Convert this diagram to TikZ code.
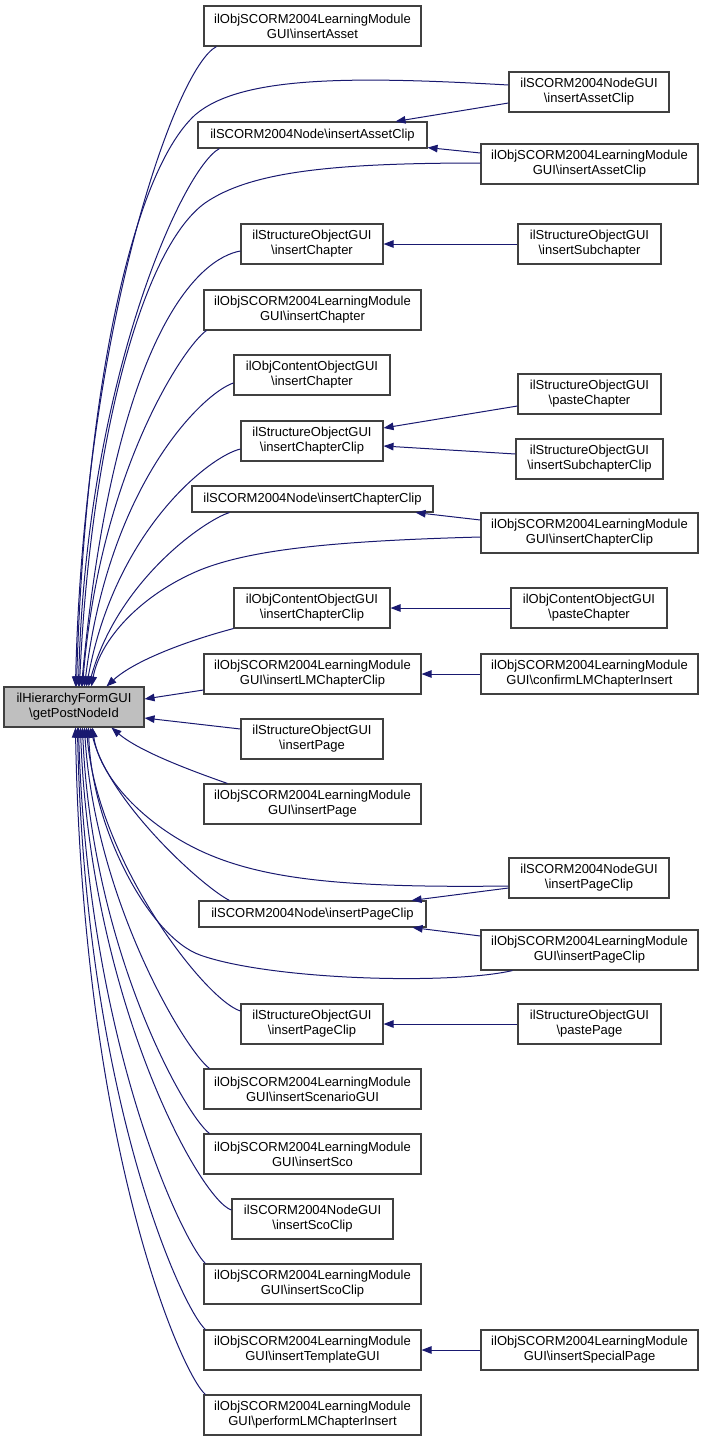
\documentclass[tikz,border=0pt]{standalone}
\usepackage{fontspec}
\setmainfont{Liberation Sans}
\usetikzlibrary{arrows.meta,calc}
\definecolor{edgec}{HTML}{191970}
\definecolor{rootfill}{HTML}{BFBFBF}
\definecolor{boxline}{HTML}{404040}
\newcommand{\bsl}{\textbackslash}
\begin{document}
\begin{tikzpicture}[x=1pt,y=-1pt,
  box/.style={draw=boxline, line width=1.1pt, fill=white, inner sep=0pt, align=center,
              font=\fontsize{13}{15}\selectfont, minimum height=40pt},
  lm/.style={box, minimum width=217pt},
  so/.style={box, minimum width=142pt},
  co/.style={box, minimum width=156pt},
  gui/.style={box, minimum width=160pt},
  one/.style={box, minimum height=26pt},
  edge/.style={draw=edgec, line width=1pt, -{Triangle[length=10pt,width=7.5pt]}}]
\useasboundingbox (0,0) rectangle (705,1441);

% root
\node[box, fill=rootfill, minimum width=140pt] (root) at (74,707) {ilHierarchyFormGUI\\\bsl getPostNodeId};

% column 2
\node[lm] (n1) at (312.5,26) {ilObjSCORM2004LearningModule\\GUI\bsl insertAsset};
\node[one, minimum width=229pt] (d1) at (312.5,135) {ilSCORM2004Node\bsl insertAssetClip};
\node[so] (s1) at (312,244) {ilStructureObjectGUI\\\bsl insertChapter};
\node[lm] (n2) at (312.5,310) {ilObjSCORM2004LearningModule\\GUI\bsl insertChapter};
\node[co] (c1) at (312,375) {ilObjContentObjectGUI\\\bsl insertChapter};
\node[so] (s2) at (312,441) {ilStructureObjectGUI\\\bsl insertChapterClip};
\node[one, minimum width=241pt] (d2) at (312.5,499) {ilSCORM2004Node\bsl insertChapterClip};
\node[co] (c2) at (312,608) {ilObjContentObjectGUI\\\bsl insertChapterClip};
\node[lm] (n3) at (312.5,674) {ilObjSCORM2004LearningModule\\GUI\bsl insertLMChapterClip};
\node[so] (s3) at (312,739) {ilStructureObjectGUI\\\bsl insertPage};
\node[lm] (n4) at (312.5,804) {ilObjSCORM2004LearningModule\\GUI\bsl insertPage};
\node[one, minimum width=227pt] (d3) at (312.5,914) {ilSCORM2004Node\bsl insertPageClip};
\node[so] (s4) at (312,1024) {ilStructureObjectGUI\\\bsl insertPageClip};
\node[lm] (n5) at (312.5,1089) {ilObjSCORM2004LearningModule\\GUI\bsl insertScenarioGUI};
\node[lm] (n6) at (312.5,1154) {ilObjSCORM2004LearningModule\\GUI\bsl insertSco};
\node[gui, minimum width=161pt] (g3) at (312.5,1219) {ilSCORM2004NodeGUI\\\bsl insertScoClip};
\node[lm] (n7) at (312.5,1284) {ilObjSCORM2004LearningModule\\GUI\bsl insertScoClip};
\node[lm] (n8) at (312.5,1350) {ilObjSCORM2004LearningModule\\GUI\bsl insertTemplateGUI};
\node[lm] (n9) at (312.5,1415) {ilObjSCORM2004LearningModule\\GUI\bsl performLMChapterInsert};

% column 3
\node[gui] (g1) at (589,92) {ilSCORM2004NodeGUI\\\bsl insertAssetClip};
\node[lm] (m1) at (589.5,164) {ilObjSCORM2004LearningModule\\GUI\bsl insertAssetClip};
\node[so, minimum width=143pt] (s1b) at (589.5,244) {ilStructureObjectGUI\\\bsl insertSubchapter};
\node[so, minimum width=143pt] (s2p) at (589.5,394) {ilStructureObjectGUI\\\bsl pasteChapter};
\node[so, minimum width=147pt] (s2s) at (589.5,459) {ilStructureObjectGUI\\\bsl insertSubchapterClip};
\node[lm] (m2) at (589.5,533) {ilObjSCORM2004LearningModule\\GUI\bsl insertChapterClip};
\node[co] (c2p) at (589,608) {ilObjContentObjectGUI\\\bsl pasteChapter};
\node[lm] (m3) at (589.5,674) {ilObjSCORM2004LearningModule\\GUI\bsl confirmLMChapterInsert};
\node[gui] (g2) at (589,878) {ilSCORM2004NodeGUI\\\bsl insertPageClip};
\node[lm] (m4) at (589.5,950) {ilObjSCORM2004LearningModule\\GUI\bsl insertPageClip};
\node[so, minimum width=143pt] (s4p) at (589.5,1024) {ilStructureObjectGUI\\\bsl pastePage};
\node[lm] (m5) at (589.5,1350) {ilObjSCORM2004LearningModule\\GUI\bsl insertSpecialPage};

% edges into root from above
\draw[edge] ($(n1.south west)+(13,0)$) .. controls (175,68) and (84,330) .. ($(root.north west)+(72,0)$);
\draw[edge] ($(g1.west)+(0,-7)$) .. controls (350,76) and (240,76) .. (195,115) .. controls (130,175) and (85,400) .. ($(root.north west)+(73,0)$);
\draw[edge] ($(d1.south west)+(22,0)$) .. controls (183,168) and (86,380) .. ($(root.north west)+(75,0)$);
\draw[edge] ($(m1.west)+(0,-1)$) .. controls (330,163) and (250,172) .. (205,203) .. controls (140,250) and (90,450) .. ($(root.north west)+(76,0)$);
\draw[edge] ($(s1.west)+(0,7)$) .. controls (200,258) and (115,330) .. ($(root.north west)+(78,0)$);
\draw[edge] ($(n2.south west)+(3,0)$) .. controls (185,345) and (100,470) .. ($(root.north west)+(79,0)$);
\draw[edge] ($(c1.west)+(0,8)$) .. controls (205,392) and (110,480) .. ($(root.north west)+(81,0)$);
\draw[edge] ($(s2.west)+(0,8)$) .. controls (210,456) and (115,530) .. ($(root.north west)+(83,0)$);
\draw[edge] ($(d2.south west)+(38,0)$) .. controls (205,520) and (118,580) .. ($(root.north west)+(85,0)$);
\draw[edge] ($(m2.west)+(0,4)$) .. controls (330,541) and (250,550) .. (200,570) .. controls (140,595) and (100,640) .. ($(root.north west)+(88,0)$);
\draw[edge] (c2.south west) .. controls (190,640) and (135,660) .. ($(root.north west)+(103,0)$);

% edges into root from the right
\draw[edge] ($(n3.west)+(0,16)$) -- ($(root.east)+(0,-8)$);
\draw[edge] ($(s3.west)+(0,-10)$) -- ($(root.east)+(0,11)$);

% edges into root from below
\draw[edge] ($(n4.north west)+(24,0)$) .. controls (195,772) and (140,752) .. ($(root.south west)+(108,0)$);
\draw[edge] ($(g2.west)+(0,8)$) .. controls (350,888) and (270,880) .. (210,855) .. controls (150,830) and (100,780) .. ($(root.south west)+(89,0)$);
\draw[edge] ($(d3.north west)+(31,0)$) .. controls (200,885) and (108,800) .. ($(root.south west)+(87,0)$);
\draw[edge] ($(m4.south west)+(32,0)$) .. controls (450,985) and (270,980) .. (200,955) .. controls (150,937) and (92,830) .. ($(root.south west)+(85,0)$);
\draw[edge] ($(s4.west)+(0,-13)$) .. controls (205,1000) and (97,860) .. ($(root.south west)+(83,0)$);
\draw[edge] ($(n5.north west)+(6,0)$) .. controls (185,1050) and (95,900) .. ($(root.south west)+(81,0)$);
\draw[edge] ($(n6.north west)+(6,0)$) .. controls (185,1115) and (92,950) .. ($(root.south west)+(79,0)$);
\draw[edge] ($(g3.west)+(0,-9)$) .. controls (200,1200) and (90,1000) .. ($(root.south west)+(77,0)$);
\draw[edge] ($(n7.north west)+(2,0)$) .. controls (185,1245) and (88,1050) .. ($(root.south west)+(75,0)$);
\draw[edge] ($(n8.north west)+(2,0)$) .. controls (183,1310) and (85,1100) .. ($(root.south west)+(74,0)$);
\draw[edge] ($(n9.north west)+(2,0)$) .. controls (182,1375) and (83,1150) .. ($(root.south west)+(72,0)$);

% column 3 -> column 2
\draw[edge] ($(g1.west)+(0,11)$) -- ($(d1.north east)+(-32,0)$);
\draw[edge] ($(m1.west)+(0,-11)$) -- ($(d1.south east)+(0,-1)$);
\draw[edge] (s1b.west) -- (s1.east);
\draw[edge] ($(s2p.west)+(0,12)$) -- ($(s2.east)+(0,-13)$);
\draw[edge] ($(s2s.west)+(0,-5)$) -- ($(s2.east)+(0,5)$);
\draw[edge] ($(m2.west)+(0,-13)$) -- ($(d2.south east)+(-18,0)$);
\draw[edge] (c2p.west) -- (c2.east);
\draw[edge] (m3.west) -- (n3.east);
\draw[edge] ($(g2.west)+(0,10)$) -- ($(d3.north east)+(-15,0)$);
\draw[edge] ($(m4.west)+(0,-14)$) -- ($(d3.south east)+(-14,0)$);
\draw[edge] (s4p.west) -- (s4.east);
\draw[edge] (m5.west) -- (n8.east);
\end{tikzpicture}
\end{document}
